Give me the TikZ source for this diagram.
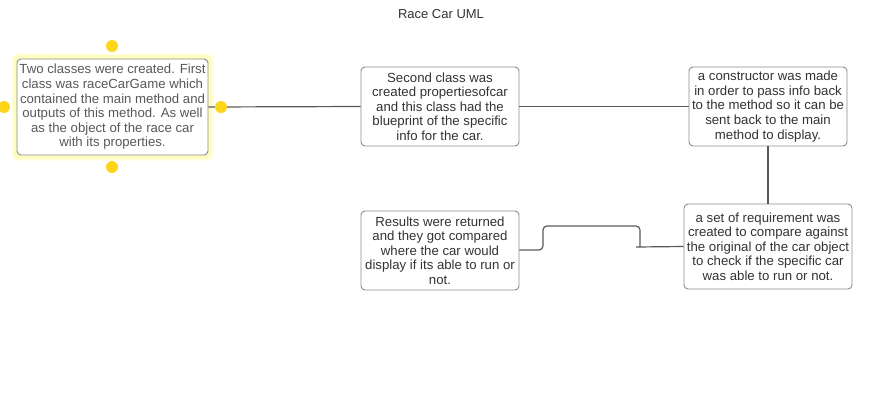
\documentclass[tikz,border=0pt]{standalone}
\usepackage{fontspec}
\setmainfont{Liberation Sans}
\begin{document}
\begin{tikzpicture}[x=1pt,y=-1pt,
  box/.style={draw=black!45, line width=0.9pt, rounded corners=4pt, fill=white,
    align=center, inner sep=0pt, text=black!80, font=\fontsize{13.2}{14.6}\selectfont},
  conn/.style={draw=black!65, line width=1.2pt},
  handle/.style={circle, fill=yellow!70!orange!90, minimum size=12pt, inner sep=0pt}]
\useasboundingbox (0,0) rectangle (886,408);
\node[font=\fontsize{13}{14}\selectfont, text=black!80] (title) at (441,14) {Race Car UML};

% first (selected) box with glow
\fill[yellow!10, rounded corners=7pt] (11,53) rectangle (214,161);
\fill[yellow!25, rounded corners=6pt] (13,55) rectangle (212,159);
\node[box, text=black!65, minimum width=191pt, minimum height=96pt] (b1) at (112.5,107)
 {Two classes were created. First\\class was raceCarGame which\\contained the main method and\\outputs of this method. As well\\as the object of the race car\\with its properties.};

\node[box, minimum width=158pt, minimum height=79pt] (b2) at (440,106.5)
 {Second class was\\created propertiesofcar\\and this class had the\\blueprint of the specific\\info for the car.};
\node[box, minimum width=158pt, minimum height=79pt] (b3) at (768,106.5)
 {a constructor was made\\in order to pass info back\\to the method so it can be\\sent back to the main\\method to display.};
\node[box, minimum width=158pt, minimum height=79pt] (b4) at (440,250.5)
 {Results were returned\\and they got compared\\where the car would\\display if its able to run or\\not.};
\node[box, minimum width=168pt, minimum height=85pt] (b5) at (768,246.5)
 {a set of requirement was\\created to compare against\\the original of the car object\\to check if the specific car\\was able to run or not.};

\coordinate (j1) at (640,247);
\coordinate (j2) at (636,247);
\draw[conn] (b1.east) -- (b2.west);
\draw[conn] (b2.east) -- (b3.west);
\draw[conn] (b3.south) -- (b5.north);
\draw[conn] (b5.west) -- (j2);
\draw[conn, rounded corners=4pt] (b4.east |- 0,250) -- (543,250) -- (543,226) -- (640,226) -- (j1);

\node[handle] (h1) at (112,46) {};
\node[handle] (h2) at (112,167) {};
\node[handle] (h3) at (4,107) {};
\node[handle] (h4) at (221,107) {};
\end{tikzpicture}
\end{document}
